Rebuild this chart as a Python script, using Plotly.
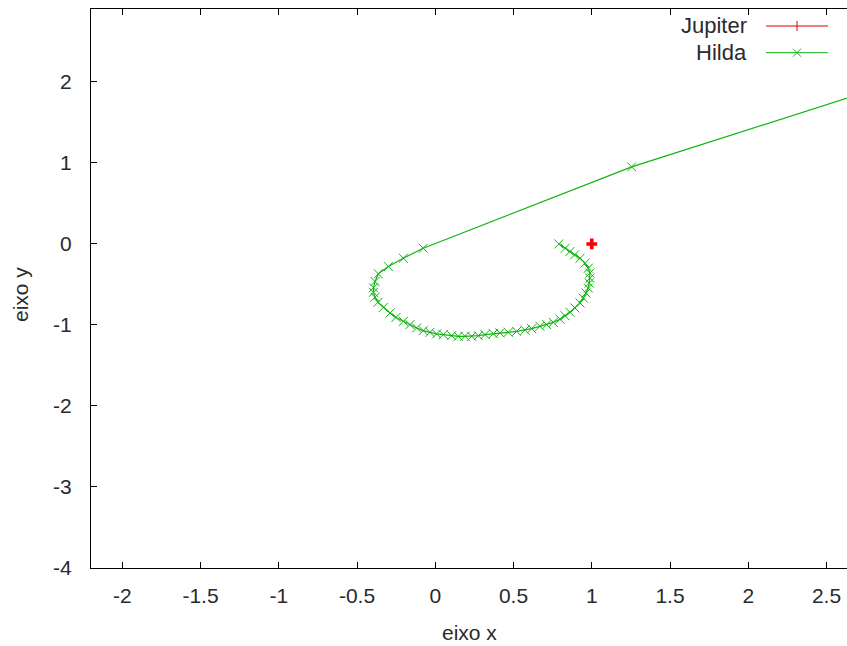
import plotly.graph_objects as go

# Jupiter position in the rotating frame
jupiter_x = [1.0]
jupiter_y = [0.0]

# Hilda trajectory (rotating frame)
hilda_x = [0.79, 0.83, 0.86, 0.89, 0.925, 0.957, 0.978, 0.988, 0.988, 0.984,
           0.978, 0.963, 0.946, 0.925, 0.893, 0.861, 0.829, 0.797, 0.754, 0.712,
           0.669, 0.616, 0.573, 0.520, 0.466, 0.413, 0.371, 0.318, 0.275, 0.233,
           0.190, 0.147, 0.105, 0.051, 0.009, -0.034, -0.077, -0.119, -0.162, -0.204,
           -0.251, -0.289, -0.332, -0.366, -0.385, -0.395, -0.395, -0.385, -0.364, -0.300,
           -0.204, -0.077, 1.255, 3.2]
hilda_y = [0.0, -0.053, -0.095, -0.135, -0.176, -0.237, -0.299, -0.360, -0.422, -0.483,
           -0.545, -0.606, -0.668, -0.729, -0.791, -0.843, -0.886, -0.929, -0.968, -0.996,
           -1.017, -1.046, -1.064, -1.079, -1.091, -1.098, -1.107, -1.119, -1.132, -1.140,
           -1.140, -1.140, -1.132, -1.119, -1.111, -1.091, -1.070, -1.037, -0.996, -0.956,
           -0.907, -0.852, -0.784, -0.720, -0.658, -0.597, -0.541, -0.464, -0.369, -0.279,
           -0.176, -0.053, 0.951, 2.15]

x_ticks = [-2, -1.5, -1, -0.5, 0, 0.5, 1, 1.5, 2, 2.5]
y_ticks = [-4, -3, -2, -1, 0, 1, 2]

RED = "#e00000"
GREEN = "#10b410"
FONT = "Liberation Sans"
TXT = "#2a2a2a"

fig = go.Figure()
fig.add_trace(go.Scatter(
    x=hilda_x, y=hilda_y, mode="lines+markers", name="Hilda",
    line=dict(color=GREEN, width=1.2),
    marker=dict(symbol="x-thin", size=9, line=dict(color=GREEN, width=1)),
))
fig.add_trace(go.Scatter(
    x=jupiter_x, y=jupiter_y, mode="lines+markers", name="Jupiter",
    line=dict(color=RED, width=1),
    marker=dict(symbol="cross", size=9, color="#ff0000"),
))

# plot-area geometry in pixels (used for the hand-drawn key)
L, R, T, B = 91, 847, 9, 568
W, H = R - L, B - T


def px(x):
    return (x - L) / W


def py(y):
    return (B - y) / H


shapes = []
annotations = []
# key: label on the left, sample on the right
key_rows = [("Jupiter", RED, 26, "plus"), ("Hilda", GREEN, 52.7, "x")]
for label, col, yc, kind in key_rows:
    annotations.append(dict(
        x=px(749), y=py(yc), xref="paper", yref="paper", text=label,
        showarrow=False, xanchor="right", yanchor="middle",
        font=dict(family=FONT, size=22, color=TXT)))
    shapes.append(dict(type="line", xref="paper", yref="paper",
                       x0=px(766), x1=px(828), y0=py(yc), y1=py(yc),
                       line=dict(color=col, width=1)))
    if kind == "plus":
        shapes.append(dict(type="line", xref="paper", yref="paper",
                           x0=px(797), x1=px(797), y0=py(yc - 5), y1=py(yc + 5),
                           line=dict(color=col, width=1)))
    else:
        shapes.append(dict(type="line", xref="paper", yref="paper",
                           x0=px(793), x1=px(801), y0=py(yc - 4), y1=py(yc + 4),
                           line=dict(color=col, width=1)))
        shapes.append(dict(type="line", xref="paper", yref="paper",
                           x0=px(793), x1=px(801), y0=py(yc + 4), y1=py(yc - 4),
                           line=dict(color=col, width=1)))

# axis titles
annotations.append(dict(x=px(470), y=py(632), xref="paper", yref="paper",
                        text="eixo x", showarrow=False, xanchor="center",
                        yanchor="middle", font=dict(family=FONT, size=21, color=TXT)))
annotations.append(dict(x=px(20), y=py(295), xref="paper", yref="paper",
                        text="eixo y", showarrow=False, textangle=-90,
                        xanchor="center", yanchor="middle",
                        font=dict(family=FONT, size=21, color=TXT)))

fig.update_layout(
    width=847, height=646,
    margin=dict(l=L, r=847 - R, t=T, b=646 - B),
    paper_bgcolor="white", plot_bgcolor="white",
    showlegend=False,
    shapes=shapes, annotations=annotations,
    font=dict(family=FONT, size=21, color=TXT),
)
fig.update_xaxes(
    range=[-2.2, 2.631], tickvals=x_ticks, ticktext=[f"{v:g}" for v in x_ticks],
    showgrid=False, zeroline=False, showline=True, linecolor="#000", linewidth=1,
    mirror="ticks", ticks="inside", ticklen=6, tickcolor="#000",
    ticklabelstandoff=9,
)
fig.update_yaxes(
    range=[-4, 2.9], tickvals=y_ticks, ticktext=[f"{v:g}" for v in y_ticks],
    showgrid=False, zeroline=False, showline=True, linecolor="#000", linewidth=1,
    ticks="inside", ticklen=6, tickcolor="#000", ticklabelstandoff=14,
)

fig.write_html("out.html")
